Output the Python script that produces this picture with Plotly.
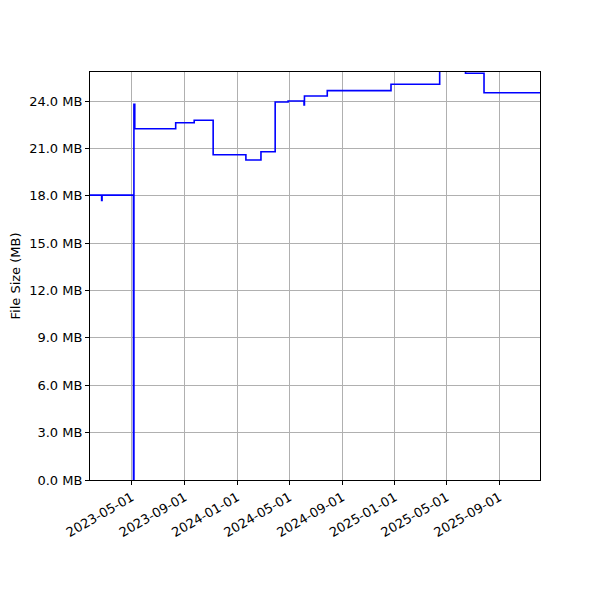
import plotly.graph_objects as go

dates = [
    "2023-01-24", "2023-02-20", "2023-02-21", "2023-05-05", "2023-05-06", "2023-05-08",
    "2023-08-11", "2023-09-23", "2023-11-06", "2024-01-21", "2024-02-25",
    "2024-03-29", "2024-04-28", "2024-06-04", "2024-06-05", "2024-07-28",
    "2024-12-23", "2025-04-15", "2025-06-14", "2025-07-27", "2025-12-04",
]
sizes_mb = [
    18.04, 17.7, 18.04, 0.0, 23.8, 22.25,
    22.63, 22.78, 20.6, 20.27, 20.79,
    23.94, 24.0, 23.75, 24.32, 24.66,
    25.06, 26.5, 25.76, 24.53, 24.53,
]
y_ticks = [0, 3, 6, 9, 12, 15, 18, 21, 24]
y_ticktext = [f"{v:.1f} MB" for v in y_ticks]
x_ticks = ["2023-05-01", "2023-09-01", "2024-01-01", "2024-05-01",
           "2024-09-01", "2025-01-01", "2025-05-01", "2025-09-01"]

fig = go.Figure()
fig.add_trace(go.Scatter(
    x=dates, y=sizes_mb, mode="lines", line_shape="hv",
    line=dict(color="blue", width=1.6), showlegend=False,
))

font = dict(family="DejaVu Sans", size=13, color="black")
fig.update_layout(
    width=600, height=600,
    margin=dict(l=82, r=68, t=64, b=128, autoexpand=False),
    plot_bgcolor="white", paper_bgcolor="white",
    font=font,
)
fig.update_xaxes(
    type="date", range=["2023-01-24", "2025-12-04"],
    tickvals=x_ticks, tickformat="%Y-%m-%d", tickangle=-30,
    showgrid=True, gridcolor="#b0b0b0", gridwidth=0.8,
    showline=True, linecolor="black", linewidth=1, mirror=True,
    ticks="outside", ticklen=4, tickcolor="black", zeroline=False,
    automargin=False,
)
fig.update_yaxes(
    range=[0, 25.84], tickvals=y_ticks, ticktext=y_ticktext,
    showgrid=True, gridcolor="#b0b0b0", gridwidth=0.8,
    showline=True, linecolor="black", linewidth=1, mirror=True,
    ticks="outside", ticklen=4, tickcolor="black", zeroline=False,
    title=dict(text="File Size (MB)", font=font, standoff=10),
    automargin=False,
)
fig.write_html("out.html")
